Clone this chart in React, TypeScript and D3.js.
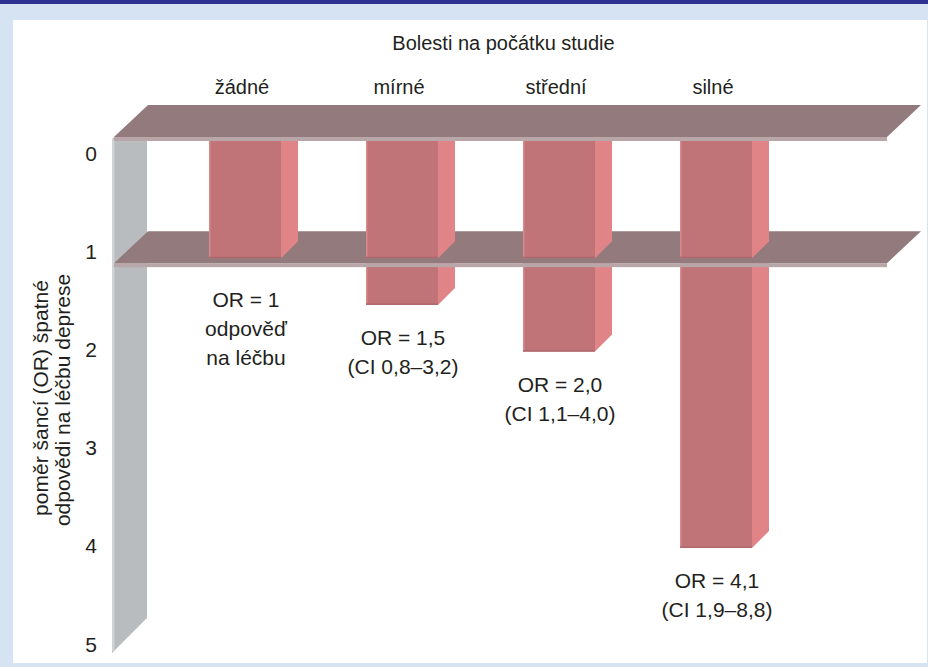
import React from "react";
import * as d3 from "d3";

// Pain at study start vs. odds ratio of poor response to depression treatment
const categories = ["žádné", "mírné", "střední", "silné"];
const oddsRatios = [1, 1.5, 2.0, 4.1];
const valueLabels = [
  ["OR = 1", "odpověď", "na léčbu"],
  ["OR = 1,5", "(CI 0,8–3,2)"],
  ["OR = 2,0", "(CI 1,1–4,0)"],
  ["OR = 4,1", "(CI 1,9–8,8)"],
];
const axisTicks = [0, 1, 2, 3, 4, 5];
const planeValues = [0, 1];
const chartTitle = "Bolesti na počátku studie";
const axisTitle = ["poměr šancí (OR) špatné", "odpovědi na léčbu deprese"];

const W = 928;
const H = 667;
const FONT = "'Liberation Sans', Arial, Helvetica, sans-serif";

// 3D projection depth
const DX = 34;
const DY = -32;
const SIDE = 17;
const BAR_W = 72;

const plotTop = 137; // front edge of the zero plane
const planeLeft = 114;
const planeRight = 887;
const stripH = 4;

const COL = {
  navy: "#2e3191",
  frame: "#d5e3f3",
  plane: "#937b7d",
  planeEdge: "#b9a6a9",
  wall: "#b9bcbf",
  wallEdge: "#d0d3d5",
  front: "#c07478",
  frontEdge: "#d68a8d",
  frontBottom: "#b0686c",
  side: "#e08488",
  text: "#231f20",
};

export default function App() {
  const x = d3.scalePoint<string>().domain(categories).range([245, 716]);
  const yBar = d3.scaleLinear().domain([0, 5]).range([164.7, 632]);
  const yAxis = d3.scaleLinear().domain([0, 5]).range([153, 644]);

  const planeFront = (v: number) => (v === 0 ? plotTop : yBar(v) + 5);
  const wallBottom = yAxis(5) + 9;

  const sidePath = (x1: number, top: number, bottom: number) =>
    `M${x1},${top}L${x1 + SIDE},${top - SIDE}L${x1 + SIDE},${bottom - SIDE}L${x1},${bottom}Z`;

  const plane = (v: number) => {
    const yf = planeFront(v);
    return (
      <g key={`plane-${v}`}>
        <path
          d={`M${planeLeft},${yf}L${planeRight},${yf}L${planeRight + DX},${yf + DY}L${planeLeft + DX},${yf + DY}Z`}
          fill={COL.plane}
        />
        <rect x={planeLeft} y={yf} width={planeRight - planeLeft} height={stripH} fill={COL.planeEdge} />
      </g>
    );
  };

  const box = (c: string, top: number, bottom: number, key: string) => {
    const cx = x(c) as number;
    const x0 = cx - BAR_W / 2;
    const x1 = cx + BAR_W / 2;
    return (
      <g key={key}>
        <path d={sidePath(x1, top, bottom)} fill={COL.side} />
        <rect x={x0} y={top} width={BAR_W} height={bottom - top} fill={COL.front} />
        <rect x={x0} y={top} width={1.5} height={bottom - top} fill={COL.frontEdge} />
        <rect x={x0} y={bottom - 1.5} width={BAR_W} height={1.5} fill={COL.frontBottom} />
      </g>
    );
  };

  const oneY = yBar(1);
  const lowerTop = planeFront(1);

  return (
    <svg
      width={W}
      height={H}
      viewBox={`0 0 ${W} ${H}`}
      style={{ position: "absolute", left: 0, top: 0, display: "block" }}
      fontFamily={FONT}
    >
      <rect x={0} y={0} width={W} height={H} fill={COL.frame} />
      <rect x={0} y={0} width={W} height={4} fill={COL.navy} />
      <rect x={13} y={20} width={914} height={643} fill="#ffffff" />

      {/* side wall */}
      <path
        d={`M112,${plotTop + 2}L${112 + DX + 1},${plotTop + 2 + DY}L${112 + DX + 1},${wallBottom - 35}L112,${wallBottom}Z`}
        fill={COL.wall}
      />
      <rect x={112} y={plotTop + 2} width={2.5} height={wallBottom - plotTop - 4} fill={COL.wallEdge} />

      {/* segments below the OR = 1 plane */}
      {categories.map((c, i) =>
        oddsRatios[i] > 1 ? box(c, lowerTop, yBar(oddsRatios[i]), `low-${c}`) : null
      )}

      {plane(planeValues[1])}

      {/* segments between the 0 and 1 planes */}
      {categories.map((c, i) => box(c, plotTop, Math.min(oneY, yBar(oddsRatios[i])), `up-${c}`))}

      {plane(planeValues[0])}

      {/* value tick labels */}
      {axisTicks.map((t) => (
        <text
          key={`t-${t}`}
          x={97}
          y={yAxis(t) + 7.5}
          textAnchor="end"
          fontSize={21}
          fill={COL.text}
        >
          {t}
        </text>
      ))}

      {/* axis title */}
      <text transform="translate(48,398) rotate(-90)" textAnchor="middle" fontSize={21} fill={COL.text}>
        {axisTitle[0]}
      </text>
      <text transform="translate(70,400) rotate(-90)" textAnchor="middle" fontSize={21} fill={COL.text}>
        {axisTitle[1]}
      </text>

      {/* title and category headers */}
      <text x={503.5} y={50} textAnchor="middle" fontSize={20} fill={COL.text}>
        {chartTitle}
      </text>
      {categories.map((c) => (
        <text key={`c-${c}`} x={(x(c) as number) - 3} y={94} textAnchor="middle" fontSize={20} fill={COL.text}>
          {c}
        </text>
      ))}

      {/* value labels under each bar */}
      {categories.map((c, i) => {
        const base = Math.max(yBar(oddsRatios[i]), lowerTop + stripH) + 40;
        return (
          <text key={`v-${c}`} textAnchor="middle" fontSize={21} fill={COL.text}>
            {valueLabels[i].map((line, j) => (
              <tspan key={j} x={(x(c) as number) + 1} y={base + j * 29}>
                {line}
              </tspan>
            ))}
          </text>
        );
      })}
    </svg>
  );
}
